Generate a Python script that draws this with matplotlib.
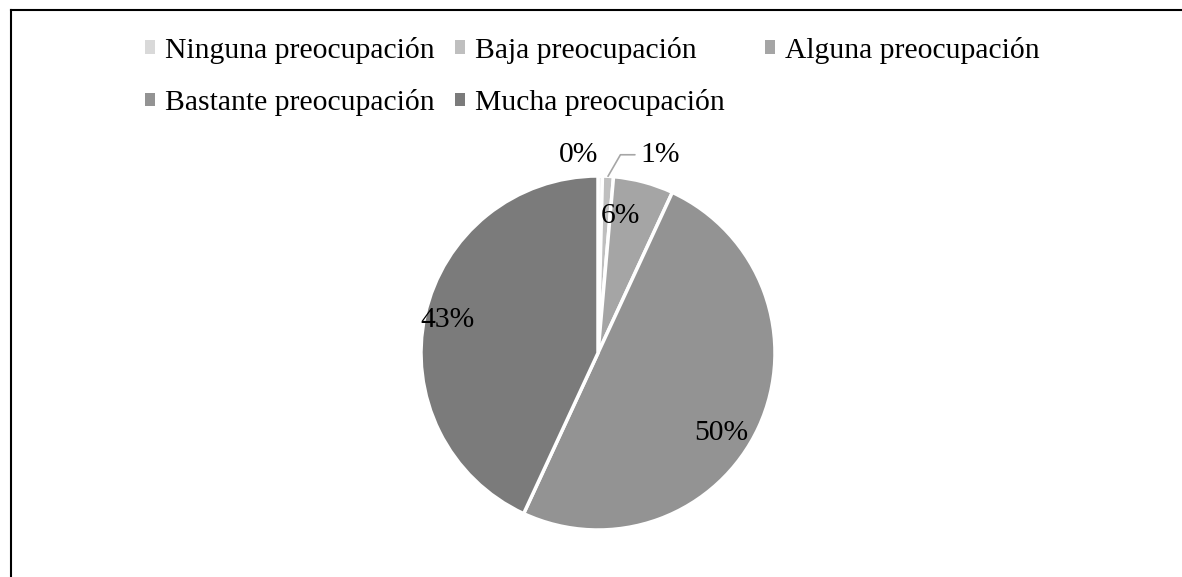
import matplotlib
matplotlib.use('Agg')
import matplotlib.pyplot as plt
from matplotlib.lines import Line2D
from matplotlib.patches import Patch
import numpy as np

# Datos del grafico
categorias = ['Ninguna preocupación', 'Baja preocupación', 'Alguna preocupación',
              'Bastante preocupación', 'Mucha preocupación']
valores = [0.4, 1.0, 5.5, 50.0, 43.1]
etiquetas = ['0%', '1%', '6%', '50%', '43%']
colores = ['#d9d9d9', '#bfbfbf', '#a5a5a5', '#939393', '#7b7b7b']

plt.rcParams['font.family'] = ['Liberation Serif', 'DejaVu Serif']
FS = 21.3

fig = plt.figure(figsize=(11.82, 5.77), dpi=100)

# pie centred at ~(598, 353) px, radius ~177 px
W, H = 1182, 577
cx, cy, r = 598, 353, 177
ax = fig.add_axes([(cx - r) / W, (H - cy - r) / H, 2 * r / W, 2 * r / H])
wedges, _ = ax.pie(valores, colors=colores, startangle=90, counterclock=False,
                   radius=1, wedgeprops=dict(edgecolor='white', linewidth=2.5))
ax.set_xlim(-1, 1)
ax.set_ylim(-1, 1)
ax.set_aspect('equal')
ax.axis('off')

# label positions (fraction of radius) plus small nudges like Excel's best fit
dist = [1.12, 1.12, 0.80, 0.82, 0.87]
nudge = [(0, 0), (0, 0), (-0.08, 0.0), (-0.05, -0.11), (0, 0)]
for i, w in enumerate(wedges):
    ang = np.deg2rad((w.theta1 + w.theta2) / 2)
    x, y = np.cos(ang), np.sin(ang)
    if i == 0:
        ax.text(x * dist[i] - 0.01, y * dist[i], etiquetas[i], ha='right', va='center', fontsize=FS)
    elif i == 1:
        ax.annotate(etiquetas[i], xy=(x, y), xytext=(0.24, dist[i]),
                    ha='left', va='center', fontsize=FS,
                    arrowprops=dict(arrowstyle='-', color='#a6a6a6', lw=1.2,
                                    connectionstyle='angle,angleA=0,angleB=60,rad=0',
                                    shrinkA=2, shrinkB=0))
    else:
        ax.text(x * dist[i] + nudge[i][0], y * dist[i] + nudge[i][1], etiquetas[i],
                ha='center', va='center', fontsize=FS)

# leyenda en 3 columnas de igual ancho (como Excel)
columnas = [[0, 3], [1, 4], [2]]
col_x = [145, 455, 765]
for cols, xpx in zip(columnas, col_x):
    h = [Patch(facecolor=colores[k], edgecolor='none') for k in cols]
    lab = [categorias[k] for k in cols]
    fig.legend(h, lab, loc='upper left', bbox_to_anchor=(xpx / W, 1 - 37 / H),
               frameon=False, fontsize=FS, borderpad=0, borderaxespad=0,
               handlelength=0.34, handleheight=0.34, handletextpad=0.34,
               labelspacing=0.85)

# marco (solo izquierda y arriba visibles)
fig.add_artist(Line2D([11 / W, 11 / W], [0, 1 - 10 / H], color='black', lw=1.5, transform=fig.transFigure))
fig.add_artist(Line2D([11 / W, 1], [1 - 10 / H, 1 - 10 / H], color='black', lw=1.5, transform=fig.transFigure))

fig.savefig('out.png', dpi=100)
